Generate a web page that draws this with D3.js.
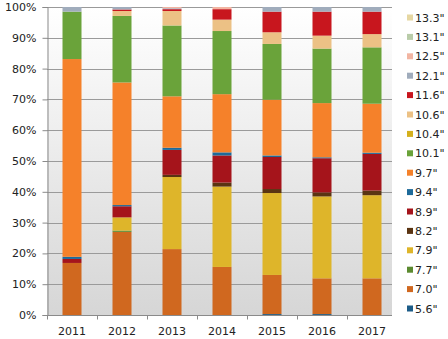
<!DOCTYPE html>
<html><head><meta charset="utf-8">
<script src="https://cdn.jsdelivr.net/npm/d3@7"></script>
<style>body{margin:0;background:#fff}svg{display:block}text{font-family:"DejaVu Sans",Verdana,sans-serif;fill:#222}</style>
</head><body>
<svg id="c" width="448" height="339"></svg>
<script>
const years = ["2011","2012","2013","2014","2015","2016","2017"];
// segment shares (%) per screen size, bottom-to-top stack order
const sizes = ['5.6"','7.0"','7.7"','7.9"','8.2"','8.9"','9.4"','9.7"','10.1"','10.4"','10.6"','11.6"','12.1"','12.5"','13.1"','13.3"'];
const s5_6  = [0,   0,   0,   0,   0.3, 0.3, 0];
const s7_0  = [16.9,27.0,21.4,15.6,12.7,11.6,11.9];
const s7_7  = [0,   0.4, 0,   0,   0,   0,   0];
const s7_9  = [0,   4.3, 23.4,26.1,26.6,26.6,27.0];
const s8_2  = [0,   0,   0.7, 1.3, 1.3, 1.3, 1.5];
const s8_9  = [1.3, 3.6, 8.1, 8.8, 10.4,11.1,11.9];
const s9_4  = [0.7, 0.4, 0.7, 1.0, 0.5, 0.3, 0.4];
const s9_7  = [64.2,39.8,16.7,18.9,18.1,17.6,15.9];
const s10_1 = [15.4,21.6,23.0,20.5,18.1,17.7,18.3];
const s10_4 = [0,   0,   0,   0,   0,   0,   0];
const s10_6 = [0,   1.6, 4.7, 3.7, 3.8, 4.2, 4.3];
const s11_6 = [0,   0.5, 0.6, 3.4, 6.7, 7.8, 7.3];
const s12_1 = [1.5, 0.8, 0.3, 0,   1.5, 1.5, 1.5];
const s12_5 = [0,   0,   0.4, 0.7, 0,   0,   0];
const s13_1 = [0,   0,   0,   0,   0,   0,   0];
const s13_3 = [0,   0,   0,   0,   0,   0,   0];
const yTicks = [0,10,20,30,40,50,60,70,80,90,100];

const series = [s5_6,s7_0,s7_7,s7_9,s8_2,s8_9,s9_4,s9_7,s10_1,s10_4,s10_6,s11_6,s12_1,s12_5,s13_1,s13_3];
const colors = ["#1c5c88","#d0681f","#5b8a2f","#deb52a","#5a3412","#a5141b","#1d6a9a","#f5812a",
                "#6aa33a","#d4b01c","#ecc185","#c8161e","#a0acbc","#f2b5a2","#b9cca9","#e6d7a2"];

const table = years.map((y,i)=>{const o={year:y}; sizes.forEach((s,k)=>o[s]=series[k][i]); return o;});
const stack = d3.stack().keys(sizes)(table);

const svg = d3.select("#c");
const L=47, R=392, T=7, B=315;
const x = d3.scaleBand().domain(years).range([47,397]).paddingInner(0.62).paddingOuter(0.31);
const y = d3.scaleLinear().domain([0,100]).range([B,T]);
const color = d3.scaleOrdinal().domain(sizes).range(colors);

const defs = svg.append("defs");
const g = defs.append("linearGradient").attr("id","bg").attr("x1",0).attr("y1",0).attr("x2",0).attr("y2",1);
g.append("stop").attr("offset","0%").attr("stop-color","#ffffff");
g.append("stop").attr("offset","100%").attr("stop-color","#d6d6d6");
svg.append("rect").attr("x",L).attr("y",T).attr("width",R-L).attr("height",B-T).attr("fill","url(#bg)");

// gridlines
svg.append("g").selectAll("line").data(yTicks).join("line")
  .attr("x1",L).attr("x2",R).attr("y1",d=>Math.round(y(d))+0.5).attr("y2",d=>Math.round(y(d))+0.5)
  .attr("stroke","#9a9a9a").attr("stroke-width",1);

// bars
svg.append("g").selectAll("g").data(stack).join("g").attr("fill",d=>color(d.key))
  .selectAll("rect").data(d=>d).join("rect")
  .attr("x",d=>x(d.data.year)).attr("width",x.bandwidth())
  .attr("y",d=>y(d[1])).attr("height",d=>Math.max(0,y(d[0])-y(d[1])));

// y axis
const yAxis = d3.axisLeft(y).tickValues(yTicks).tickFormat(d=>d+"%").tickSize(5).tickPadding(6);
const ya = svg.append("g").attr("transform",`translate(${L+0.5},0)`).call(yAxis);
ya.selectAll("path,line").attr("stroke","#8a8a8a");
ya.selectAll("text").attr("font-size",11).attr("fill","#222").style("font-family",'"DejaVu Sans",Verdana,sans-serif');

// x axis
const xAxis = d3.axisBottom(x).tickSize(0).tickPadding(12);
const xa = svg.append("g").attr("transform",`translate(0,${B+0.5})`).call(xAxis);
xa.select("path").remove();
xa.append("line").attr("x1",L).attr("x2",R).attr("stroke","#8a8a8a");
xa.selectAll("text").attr("font-size",11).attr("fill","#222").style("font-family",'"DejaVu Sans",Verdana,sans-serif');
const bounds = years.map(yr=>x(yr)-x.step()*x.paddingInner()/2).concat([x(years[years.length-1])+x.bandwidth()+x.step()*x.paddingInner()/2]).filter(v=>v<=R+1);
xa.selectAll("line.tk").data(bounds).join("line").attr("class","tk")
  .attr("x1",d=>Math.round(d)+0.5).attr("x2",d=>Math.round(d)+0.5).attr("y1",0).attr("y2",4).attr("stroke","#8a8a8a");

// legend (top = last key)
const leg = svg.append("g");
const items = sizes.slice().reverse();
const ly = d3.scalePoint().domain(items).range([17.5,308.5]);
items.forEach(s=>{
  leg.append("rect").attr("x",407).attr("y",ly(s)-3).attr("width",6).attr("height",6).attr("fill",color(s));
  leg.append("text").attr("x",415).attr("y",ly(s)+4).attr("font-size",11).text(s);
});
</script>
</body></html>
